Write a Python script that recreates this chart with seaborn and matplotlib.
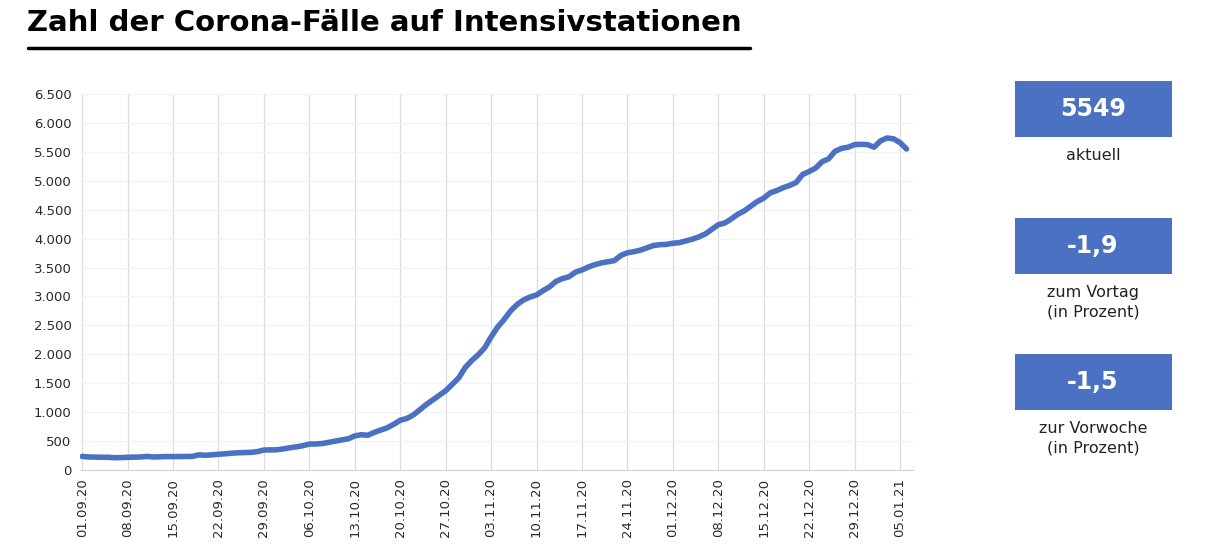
import pandas as pd
import numpy as np
import matplotlib
matplotlib.use("Agg")
import matplotlib.pyplot as plt
from matplotlib.patches import Rectangle
from matplotlib.lines import Line2D
from matplotlib.ticker import FuncFormatter
import seaborn as sns

# Intensivpatienten pro Tag, ab 01.09.2020
start_date = "2020-09-01"
faelle = [
    235, 225, 222, 220, 220, 212, 215, 220, 222, 225,
    235, 225, 228, 232, 232, 232, 234, 236, 262, 255,
    262, 272, 280, 290, 298, 302, 305, 318, 345, 348,
    350, 365, 385, 400, 420, 448, 450, 458, 478, 500,
    520, 540, 590, 610, 600, 650, 690, 730, 790, 860,
    890, 950, 1040, 1130, 1210, 1290, 1370, 1480, 1590, 1770,
    1890, 1990, 2110, 2300, 2470, 2600, 2750, 2860, 2940, 2990,
    3026, 3100, 3165, 3260, 3310, 3340, 3420, 3458, 3510, 3550,
    3580, 3600, 3620, 3710, 3755, 3775, 3800, 3840, 3880, 3895,
    3900, 3920, 3930, 3960, 3990, 4030, 4080, 4160, 4240, 4270,
    4340, 4420, 4480, 4560, 4640, 4700, 4790, 4830, 4880, 4920,
    4970, 5110, 5160, 5220, 5330, 5380, 5510, 5560, 5580, 5625,
    5630, 5625, 5580, 5690, 5740, 5725, 5660, 5549,
]

kennzahlen = ["5549", "-1,9", "-1,5"]
kennzahl_texte = ["aktuell", "zum Vortag\n(in Prozent)", "zur Vorwoche\n(in Prozent)"]

blau = "#4A71C2"

df = pd.DataFrame({"datum": pd.date_range(start_date, periods=len(faelle), freq="D"),
                   "faelle": faelle})

sns.set_style("white")
plt.rcParams["font.family"] = ["DejaVu Sans"]

W, H = 1214, 557
fig = plt.figure(figsize=(W / 100, H / 100), dpi=100)

# Titel + Unterstrich
fig.text(27 / W, 1 - 23 / H, "Zahl der Corona-Fälle auf Intensivstationen",
         fontsize=21, fontweight="bold", va="center", ha="left", color="black")
fig.add_artist(Line2D([28 / W, 750 / W], [1 - 48 / H, 1 - 48 / H],
                      color="black", lw=2.5, transform=fig.transFigure))

ax = fig.add_axes([80 / W, 1 - 470 / H, (913 - 80) / W, (470 - 94) / H])
sns.lineplot(data=df, x="datum", y="faelle", ax=ax, color=blau, lw=4,
             solid_capstyle="round")

ax.set_ylim(0, 6500)
ax.set_yticks(np.arange(0, 6501, 500))
ax.yaxis.set_major_formatter(FuncFormatter(lambda v, p: f"{int(v):,}".replace(",", ".")))

t0 = pd.Timestamp(start_date)
ax.set_xlim(t0 - pd.Timedelta(hours=8), t0 + pd.Timedelta(days=128))
ticks = pd.date_range(start_date, periods=19, freq="7D")
ax.set_xticks(ticks)
ax.set_xticklabels([d.strftime("%d.%m.%y") for d in ticks], rotation=90)

ax.grid(axis="x", color="#DCDCDC", lw=0.9)
ax.grid(axis="y", color="#F2F2F2", lw=0.8)
ax.set_axisbelow(True)
for s in ["top", "right", "left"]:
    ax.spines[s].set_visible(False)
ax.spines["bottom"].set_color("#D0D0D0")
ax.tick_params(axis="both", length=0, labelsize=9.5, colors="#2A2A2A", pad=6)
ax.set_xlabel("")
ax.set_ylabel("")

# Kennzahl-Kästen rechts
box_tops = [81, 218, 354]
for top, zahl, txt in zip(box_tops, kennzahlen, kennzahl_texte):
    fig.add_artist(Rectangle((1015 / W, 1 - (top + 56) / H), 157 / W, 56 / H,
                             transform=fig.transFigure, color=blau, lw=0))
    fig.text(1093 / W, 1 - (top + 28) / H, zahl, color="white", fontsize=17,
             fontweight="bold", ha="center", va="center")
    fig.text(1093 / W, 1 - (top + 67) / H, txt, color="#222222", fontsize=11.5,
             ha="center", va="top", linespacing=1.35)

fig.savefig("out.png", dpi=100)
